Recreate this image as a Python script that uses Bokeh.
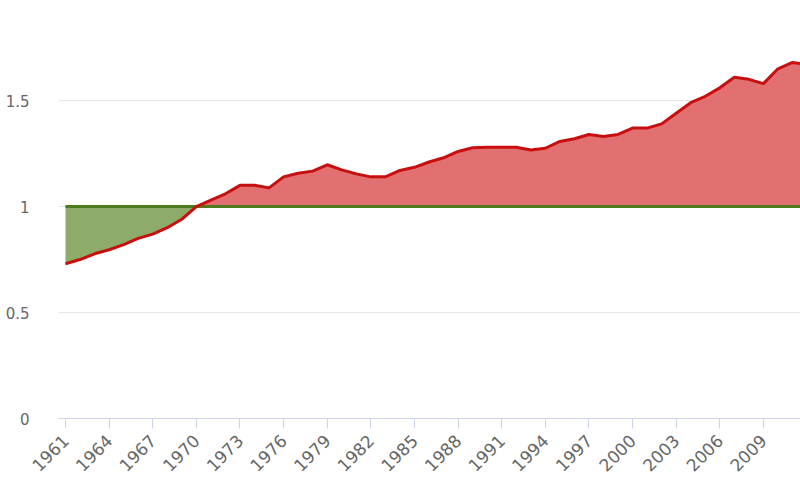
import numpy as np
from bokeh.plotting import figure
from bokeh.models import FixedTicker, Range1d
from bokeh.embed import file_html
from bokeh.resources import INLINE

years = list(range(1961, 2013))
ratio = [0.73, 0.75, 0.777, 0.796, 0.82, 0.85, 0.87, 0.90, 0.94, 1.0,
         1.03, 1.06, 1.10, 1.10, 1.088, 1.14, 1.157, 1.167, 1.197, 1.173,
         1.154, 1.14, 1.14, 1.17, 1.185, 1.21, 1.23, 1.26, 1.277, 1.28,
         1.28, 1.28, 1.267, 1.275, 1.307, 1.32, 1.34, 1.33, 1.34, 1.37,
         1.37, 1.39, 1.44, 1.49, 1.52, 1.56, 1.61, 1.60, 1.58, 1.65,
         1.68, 1.67]
baseline = 1.0
x_ticks = list(range(1961, 2013, 3))
y_ticks = [0, 0.5, 1, 1.5, 2]
y_labels = {0: "0", 0.5: "0.5", 1: "1", 1.5: "1.5", 2: "2"}

yr = np.array(years, dtype=float)
rv = np.array(ratio)
base = np.full_like(rv, baseline)

p = figure(width=800, height=500, output_backend="svg", toolbar_location=None,
           x_range=Range1d(1960.52, 2011.55), y_range=Range1d(0, 1.972),
           min_border_left=58, min_border_right=0, min_border_top=0,
           min_border_bottom=82)
p.outline_line_color = None
p.background_fill_color = "white"

# fills
p.varea(x=yr, y1=np.minimum(rv, base), y2=base, fill_color="#8fab69", fill_alpha=1)
p.varea(x=yr, y1=base, y2=np.maximum(rv, base), fill_color="#e27070", fill_alpha=1)
# lines
p.line(yr, base, line_color="#4d7a1c", line_width=3)
p.line(yr, rv, line_color="#c80f0f", line_width=3, line_join="round")

# x axis
p.xaxis.ticker = FixedTicker(ticks=x_ticks)
p.xaxis.major_label_orientation = np.pi / 4
p.xaxis.axis_line_color = "#ccd6eb"
p.xaxis.major_tick_line_color = "#ccd6eb"
p.xaxis.major_tick_out = 10
p.xaxis.major_tick_in = 0
p.xaxis.minor_tick_line_color = None
p.xaxis.major_label_text_color = "#666666"
p.xaxis.major_label_text_font = "DejaVu Sans"
p.xaxis.major_label_text_font_size = "17px"
p.xaxis.major_label_standoff = 9

# y axis
p.yaxis.ticker = FixedTicker(ticks=y_ticks)
p.yaxis.major_label_overrides = y_labels
p.yaxis.axis_line_color = None
p.yaxis.major_tick_line_color = None
p.yaxis.minor_tick_line_color = None
p.yaxis.major_label_text_color = "#666666"
p.yaxis.major_label_text_font = "DejaVu Sans"
p.yaxis.major_label_text_font_size = "15px"
p.yaxis.major_label_standoff = 23

p.xgrid.grid_line_color = None
p.ygrid.grid_line_color = "#e6e6e6"
p.ygrid.ticker = FixedTicker(ticks=y_ticks)

open("out.html", "w").write(file_html(p, INLINE))
